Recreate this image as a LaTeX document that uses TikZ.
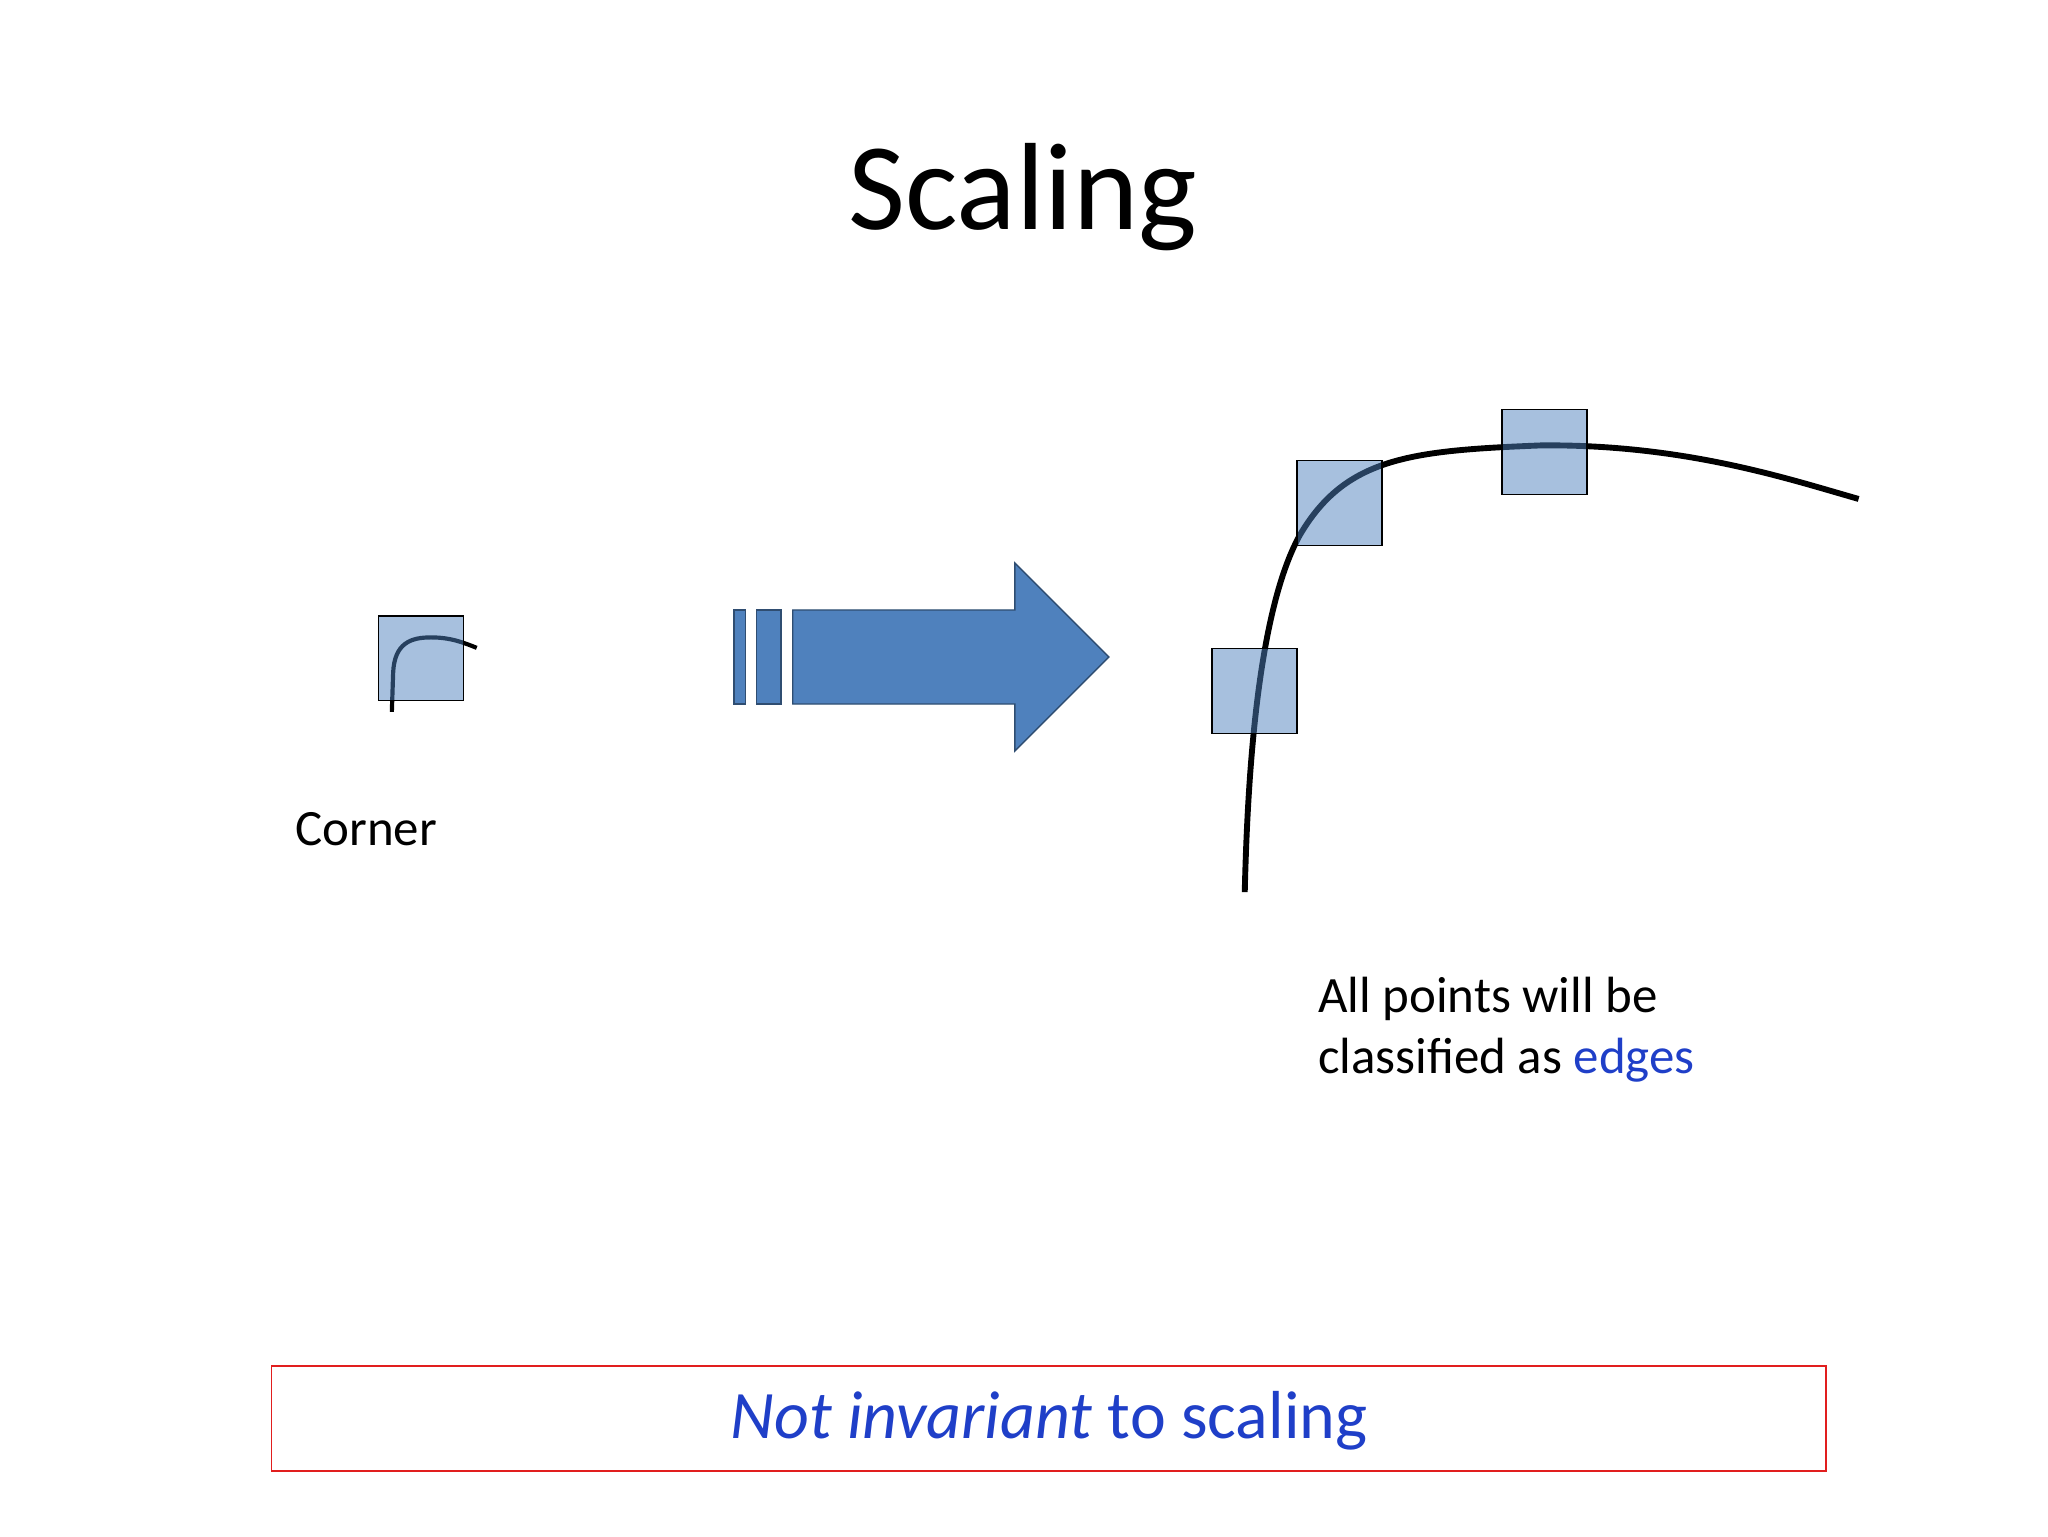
\documentclass[tikz,border=0pt]{standalone}
\usepackage{fontspec}
\setmainfont{Carlito}
\definecolor{abl}{HTML}{4F81BD}
\definecolor{txtbl}{HTML}{1F3FC8}
\begin{document}
\begin{tikzpicture}[x=1pt,y=-1pt,
  win/.style={draw=black,line width=1pt,fill=abl,fill opacity=0.5},
  crv/.style={line width=4.5pt,black},
  lbl/.style={anchor=west,inner sep=0,font=\fontsize{39}{48}\selectfont}]
\useasboundingbox (0,0) rectangle (1568,1176);
\node (title) at (783,151) {\fontsize{95}{110}\selectfont Scaling};
% small corner
\draw[crv,line width=3.2pt] (300,545) -- (301,515) .. controls (302,492) and (315,488) .. (330,488) .. controls (345,488) and (355,492) .. (365,496);
\node[win,minimum size=65pt,inner sep=0] (s0) at (322.5,504) {};
\node[lbl] (corner) at (226,635) {Corner};
% arrow
\tikzset{arr/.style={draw=abl!60!black,line width=1pt,fill=abl}}
\draw[arr] (562,467) rectangle (571,539);
\draw[arr] (579,467) rectangle (598,539);
\draw[arr] (607,467) -- (777,467) -- (777,431) -- (849,503) -- (777,575) -- (777,539) -- (607,539) -- cycle;
% big curve
\draw[crv] (953,683) .. controls (955,600) and (962,470) .. (995,410) .. controls (1030,350) and (1080,345) .. (1180,341) .. controls (1290,340) and (1370,367) .. (1423,382);
\node[win,minimum size=65pt,inner sep=0] (s1) at (960.5,529) {};
\node[win,minimum size=65pt,inner sep=0] (s2) at (1025.5,385) {};
\node[win,minimum size=65pt,inner sep=0] (s3) at (1182.5,346) {};
\node[lbl] (l1) at (1009,765) {All points will be};
\node[lbl] (l2) at (1009,812) {classified as \textcolor{txtbl}{edges}};
% bottom box
\node[draw={rgb,255:red,225;green,30;blue,30},line width=1.2pt,minimum width=1190pt,minimum height=80pt,inner sep=0] (box) at (803,1086) {};
\node[text=txtbl,font=\fontsize{52}{60}\selectfont] (msg) at (803,1088) {\textit{Not invariant} to scaling};
\end{tikzpicture}
\end{document}
